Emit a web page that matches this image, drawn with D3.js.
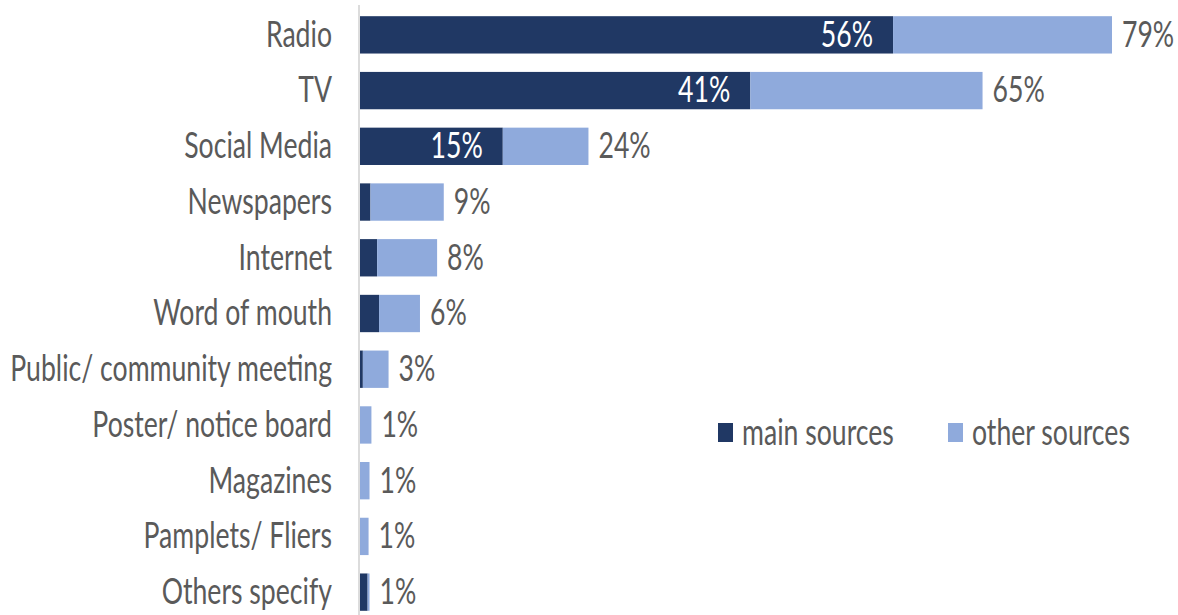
<!DOCTYPE html>
<html>
<head>
<meta charset="utf-8">
<script src="https://cdn.jsdelivr.net/npm/d3@7"></script>
<style>
  body { margin: 0; background: #fff; }
  svg text { font-family: Lato, "Open Sans", sans-serif; }
</style>
</head>
<body>
<div id="chart"></div>
<script>
// Sources of information: main vs other sources, share of respondents (%)
const categories = ['Radio', 'TV', 'Social Media', 'Newspapers', 'Internet', 'Word of mouth',
  'Public/ community meeting', 'Poster/ notice board', 'Magazines', 'Pamplets/ Fliers', 'Others specify'];
const mainSources = [56, 41, 15, 1.1, 1.8, 2, 0.3, 0, 0, 0, 0.8];
const otherSources = [23, 24.4, 9, 7.7, 6.3, 4.3, 2.7, 1.2, 1, 0.9, 0.2];
const insideLabels = ['56%', '41%', '15%', '', '', '', '', '', '', '', ''];
const totalLabels = ['79%', '65%', '24%', '9%', '8%', '6%', '3%', '1%', '1%', '1%', '1%'];
const seriesNames = ['main sources', 'other sources'];

const width = 1178, height = 615;
const colors = ['#203864', '#8faadc'];
const fontSize = 37;
const squeeze = 0.72; // the source text is narrow and tall

const svg = d3.select('#chart').append('svg')
    .attr('width', width)
    .attr('height', height);

const x = d3.scaleLinear().domain([0, 79]).range([360, 1112]);
const y = d3.scaleBand().domain(categories).range([7, 620]).paddingInner(0.33).paddingOuter(0.165);

const rows = categories.map((c, i) => ({
  cat: c, main: mainSources[i], other: otherSources[i], inside: insideLabels[i], total: totalLabels[i]
}));

// squeeze text horizontally around its own anchor x
function narrow(sel) {
  sel.each(function() {
    const t = d3.select(this);
    const ax = +t.attr('x') || 0;
    t.attr('transform', `translate(${ax},0) scale(${squeeze},1) translate(${-ax},0)`);
  });
}

// Bars
const g = svg.append('g');
g.selectAll('rect.main').data(rows).enter().append('rect')
    .attr('class', 'main')
    .attr('x', x(0))
    .attr('y', d => y(d.cat))
    .attr('width', d => x(d.main) - x(0))
    .attr('height', y.bandwidth())
    .attr('fill', colors[0]);

g.selectAll('rect.other').data(rows).enter().append('rect')
    .attr('class', 'other')
    .attr('x', d => x(d.main))
    .attr('y', d => y(d.cat))
    .attr('width', d => x(d.main + d.other) - x(d.main))
    .attr('height', y.bandwidth())
    .attr('fill', colors[1]);

// Axis line + category labels
const yAxis = svg.append('g')
    .attr('transform', `translate(${x(0) - 1},0)`)
    .call(d3.axisLeft(y).tickSize(0).tickPadding(27));
yAxis.select('.domain').attr('stroke', '#d0d0d0').attr('stroke-width', 1.5)
    .attr('d', 'M0,5V615');
yAxis.selectAll('text')
    .attr('fill', '#5a5a5a')
    .attr('font-size', fontSize)
    .attr('dy', '0.32em')
    .call(narrow);

// Value labels
g.selectAll('text.inside').data(rows).enter().append('text')
    .attr('class', 'inside')
    .attr('x', d => x(d.main) - 20)
    .attr('y', d => y(d.cat) + y.bandwidth() / 2)
    .attr('dy', '0.32em')
    .attr('text-anchor', 'end')
    .attr('fill', '#fff')
    .attr('font-size', fontSize)
    .text(d => d.inside)
    .call(narrow);

g.selectAll('text.total').data(rows).enter().append('text')
    .attr('class', 'total')
    .attr('x', d => x(d.main + d.other) + 10)
    .attr('y', d => y(d.cat) + y.bandwidth() / 2)
    .attr('dy', '0.32em')
    .attr('fill', '#5a5a5a')
    .attr('font-size', fontSize)
    .text(d => d.total)
    .call(narrow);

// Legend
const legend = svg.append('g').attr('transform', 'translate(718,432)');
const item = legend.selectAll('g').data(seriesNames).enter().append('g')
    .attr('transform', (d, i) => `translate(${i * 230},0)`);
item.append('rect')
    .attr('x', 0).attr('y', -9).attr('width', 15).attr('height', 19)
    .attr('fill', (d, i) => colors[i]);
item.append('text')
    .attr('x', 24).attr('dy', '0.34em')
    .attr('fill', '#5a5a5a')
    .attr('font-size', fontSize)
    .text(d => d)
    .call(narrow);
</script>
</body>
</html>
